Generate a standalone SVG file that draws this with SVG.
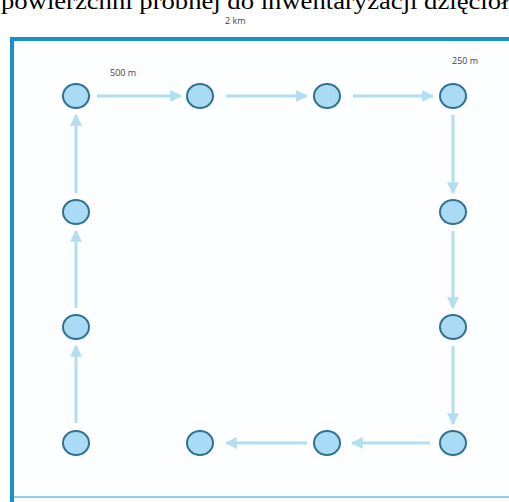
<svg xmlns="http://www.w3.org/2000/svg" width="509" height="502" viewBox="0 0 509 502">
<defs>
<marker id="ah" viewBox="0 0 10 10" refX="9" refY="5" markerWidth="4" markerHeight="4" orient="auto" markerUnits="strokeWidth">
<path d="M0,0 L10,5 L0,10 z" fill="#b3ddf1"/>
</marker>
</defs>
<style>
.n{fill:#a9dbf4;stroke:#2e7190;stroke-width:2}
.c{stroke:#b3ddf1;stroke-width:3;fill:none;marker-end:url(#ah)}
.lbl{font-family:"Open Sans","Liberation Sans",sans-serif;font-size:9px;fill:#444}
.title{font-family:"Liberation Serif",serif;font-size:24px;fill:#000}
</style>
<rect width="509" height="502" fill="#ffffff"/>
<rect x="14" y="40" width="495" height="462" fill="#fdfeff"/>
<text class="title" x="1" y="9" textLength="540" lengthAdjust="spacingAndGlyphs">powierzchni próbnej do inwentaryzacji dzięciołów</text>
<text class="lbl" x="225" y="24">2 km</text>
<g id="frame">
<line x1="10" y1="39" x2="509" y2="39" stroke="#1a8fd0" stroke-width="4"/>
<line x1="12" y1="37" x2="12" y2="502" stroke="#1a8fd0" stroke-width="4"/>
<line x1="14" y1="497" x2="509" y2="497" stroke="#8fd0ef" stroke-width="2"/>
</g>
<text class="lbl" x="110" y="76">500 m</text>
<text class="lbl" x="452" y="64">250 m</text>
<g id="connectors">
<line class="c" x1="97" y1="96" x2="181" y2="96"/>
<line class="c" x1="226" y1="96" x2="307" y2="96"/>
<line class="c" x1="353" y1="96" x2="433" y2="96"/>
<line class="c" x1="453" y1="115" x2="453" y2="193"/>
<line class="c" x1="453" y1="231" x2="453" y2="308"/>
<line class="c" x1="453" y1="346" x2="453" y2="424"/>
<line class="c" x1="430" y1="443" x2="352" y2="443"/>
<line class="c" x1="307" y1="443" x2="226" y2="443"/>
<line class="c" x1="76" y1="423" x2="76" y2="346"/>
<line class="c" x1="76" y1="308" x2="76" y2="231"/>
<line class="c" x1="76" y1="193" x2="76" y2="115"/>
</g>
<g id="n1"><ellipse class="n" cx="76" cy="96" rx="13" ry="12"/></g>
<g id="n2"><ellipse class="n" cx="200" cy="96" rx="13" ry="12"/></g>
<g id="n3"><ellipse class="n" cx="327" cy="96" rx="13" ry="12"/></g>
<g id="n4"><ellipse class="n" cx="453" cy="96" rx="13" ry="12"/></g>
<g id="n5"><ellipse class="n" cx="453" cy="212" rx="13" ry="12"/></g>
<g id="n6"><ellipse class="n" cx="453" cy="327" rx="13" ry="12"/></g>
<g id="n7"><ellipse class="n" cx="453" cy="443" rx="13" ry="12"/></g>
<g id="n8"><ellipse class="n" cx="327" cy="443" rx="13" ry="12"/></g>
<g id="n9"><ellipse class="n" cx="200" cy="443" rx="13" ry="12"/></g>
<g id="n10"><ellipse class="n" cx="76" cy="443" rx="13" ry="12"/></g>
<g id="n11"><ellipse class="n" cx="76" cy="327" rx="13" ry="12"/></g>
<g id="n12"><ellipse class="n" cx="76" cy="212" rx="13" ry="12"/></g>
</svg>
